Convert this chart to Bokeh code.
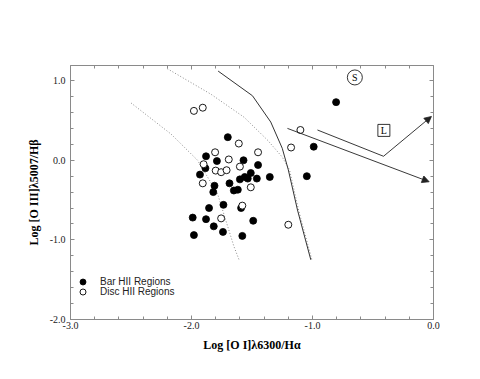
from bokeh.plotting import figure
from bokeh.models import (Range1d, LinearAxis, FixedTicker, PrintfTickFormatter,
                          CustomJSTickFormatter, Arrow, NormalHead, Legend, LegendItem)
from bokeh.embed import file_html
from bokeh.resources import INLINE
from bokeh.core.properties import value

# ---- data ----
bar_x = [-1.70, -1.88, -1.79, -1.57, -1.45, -1.885, -1.93, -1.51, -1.56, -1.535,
         -1.60, -1.46, -1.686, -1.81, -1.82, -1.65, -1.617, -1.736, -1.855, -1.59,
         -1.99, -1.88, -1.49, -1.816, -1.98, -1.74, -1.58, -0.805, -0.99, -1.047, -1.353]
bar_y = [0.29, 0.05, -0.01, 0.00, -0.06, -0.10, -0.18, -0.16, -0.21, -0.23,
         -0.24, -0.23, -0.29, -0.32, -0.40, -0.38, -0.37, -0.56, -0.60, -0.60,
         -0.72, -0.74, -0.76, -0.83, -0.94, -0.90, -0.95, 0.73, 0.17, -0.20, -0.21]

disc_x = [-1.98, -1.907, -1.609, -1.805, -1.692, -1.45, -1.90, -1.80, -1.755, -1.71,
          -1.60, -1.907, -1.51, -1.58, -1.755, -1.10, -1.177, -1.20]
disc_y = [0.62, 0.66, 0.21, 0.10, 0.01, 0.10, -0.05, -0.13, -0.15, -0.125,
          -0.08, -0.29, -0.34, -0.57, -0.73, 0.38, 0.16, -0.81]

# boundary curves
solid_x = [-1.78, -1.496, -1.345, -1.25, -1.20, -1.124, -1.014]
solid_y = [1.12, 0.81, 0.48, 0.15, -0.12, -0.625, -1.25]

dot_outer_x = [-2.20, -1.84, -1.565, -1.37, -1.25, -1.19, -1.115, -1.005]
dot_outer_y = [1.15, 0.83, 0.54, 0.25, 0.04, -0.12, -0.625, -1.25]

dot_inner_x = [-2.50, -2.17, -1.95, -1.785, -1.65, -1.607]
dot_inner_y = [0.72, 0.33, 0.00, -0.42, -1.08, -1.25]

# annotation vectors
arrow1 = (-1.207, 0.40, -0.036, -0.27)
line2 = (-0.959, 0.38, -0.413, 0.05)
arrow2 = (-0.413, 0.05, -0.017, 0.55)
s_pos = (-0.65, 1.04)
l_pos = (-0.41, 0.375)

x_major = [-3, -2, -1, 0]
y_major = [-2, -1, 0, 1]
x_minor = [round(-3 + 0.2 * i, 1) for i in range(16)]
y_minor = [round(-2 + 0.2 * i, 1) for i in range(17)]

SERIF = "Liberation Serif"
SANS = "Liberation Sans"
AX = "#8a8a8a"

p = figure(width=480, height=379, output_backend="svg", toolbar_location=None,
           x_range=Range1d(-3, 0), y_range=Range1d(-2, 1.19),
           min_border_left=70, min_border_right=47, min_border_top=65, min_border_bottom=60,
           x_axis_location=None, y_axis_location=None)
p.grid.visible = False
p.outline_line_color = None
p.background_fill_color = "white"


def make_axis(ticks, minor, labels, label_text=None):
    ax = LinearAxis(ticker=FixedTicker(ticks=ticks, minor_ticks=minor))
    ax.axis_line_color = AX
    ax.major_tick_line_color = AX
    ax.minor_tick_line_color = AX
    ax.major_tick_in = 4
    ax.major_tick_out = 0
    ax.minor_tick_in = 3
    ax.minor_tick_out = 0
    if labels:
        ax.formatter = PrintfTickFormatter(format="%.1f")
        ax.major_label_text_font = SERIF
        ax.major_label_text_font_size = "10px"
        ax.major_label_text_color = "#222222"
    else:
        ax.formatter = CustomJSTickFormatter(code="return ''")
        ax.major_label_text_font_size = "1px"
        ax.major_label_standoff = 0
    if label_text:
        ax.axis_label = label_text
        ax.axis_label_text_font = SERIF
        ax.axis_label_text_font_style = "bold"
        ax.axis_label_text_font_size = "12px"
        ax.axis_label_text_color = "black"
    return ax


bottom = make_axis(x_major, x_minor, True, "Log [O I]λ6300/Hα")
bottom.major_label_standoff = 2
bottom.axis_label_standoff = 6
left = make_axis(y_major, y_minor, True, "Log [O III]λ5007/Hβ")
left.major_label_standoff = 5
left.axis_label_standoff = 6
top = make_axis(x_major, x_minor, False)
right = make_axis(y_major, y_minor, False)
p.add_layout(bottom, "below")
p.add_layout(left, "left")
p.add_layout(top, "above")
p.add_layout(right, "right")

# curves
p.line(dot_inner_x, dot_inner_y, line_color="#8c8c8c", line_width=1, line_dash="1 2")
p.line(dot_outer_x, dot_outer_y, line_color="#8c8c8c", line_width=1, line_dash="1 2")
p.line(solid_x, solid_y, line_color="#333333", line_width=1)

# points
r_bar = p.scatter(bar_x, bar_y, marker="circle", size=7, fill_color="black",
                  line_color="black", line_width=0.8)
r_disc = p.scatter(disc_x, disc_y, marker="circle", size=7, fill_color="white",
                   line_color="black", line_width=0.9)

# vectors
p.add_layout(Arrow(x_start=arrow1[0], y_start=arrow1[1], x_end=arrow1[2], y_end=arrow1[3],
                   line_color="#222222", line_width=0.9,
                   end=NormalHead(size=7, fill_color="#222222", line_color="#222222", line_width=0.8)))
p.line([line2[0], line2[2]], [line2[1], line2[3]], line_color="#222222", line_width=0.9)
p.add_layout(Arrow(x_start=arrow2[0], y_start=arrow2[1], x_end=arrow2[2], y_end=arrow2[3],
                   line_color="#222222", line_width=0.9,
                   end=NormalHead(size=7, fill_color="#222222", line_color="#222222", line_width=0.8)))

# S and L markers
p.scatter([s_pos[0]], [s_pos[1]], marker="circle", size=15, fill_color=None,
          line_color="black", line_width=0.8)
p.text([s_pos[0]], [s_pos[1]], text=["S"], text_align="center", text_baseline="middle",
       text_font=value(SERIF), text_font_size="10px", text_color="black")
p.scatter([l_pos[0]], [l_pos[1]], marker="square", size=12, fill_color=None,
          line_color="black", line_width=0.8)
p.text([l_pos[0]], [l_pos[1]], text=["L"], text_align="center", text_baseline="middle",
       text_font=value(SERIF), text_font_size="10px", text_color="black")


def legend_box(label, renderer, y):
    return Legend(items=[LegendItem(label=label, renderers=[renderer])],
                  location=(5, y), glyph_width=15, glyph_height=15, spacing=0,
                  padding=0, margin=0, border_line_color=None, background_fill_alpha=0,
                  label_text_font=SANS, label_text_font_size="10px", label_standoff=10,
                  label_height=10, label_text_color="#222222")


p.add_layout(legend_box("Bar HII Regions", r_bar, 30))
p.add_layout(legend_box("Disc HII Regions", r_disc, 20))

open("out.html", "w").write(file_html(p, INLINE))
